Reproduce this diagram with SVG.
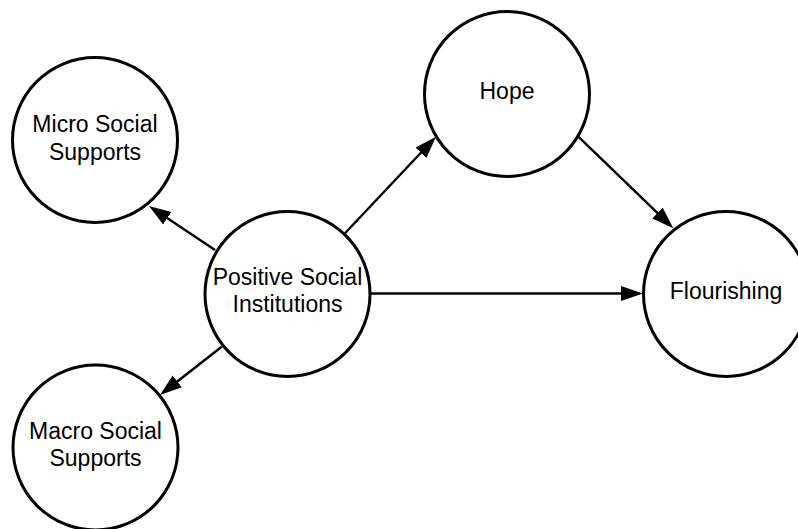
<svg xmlns="http://www.w3.org/2000/svg" width="798" height="529" viewBox="0 0 798 529">
  <style>
    .node circle { fill: #ffffff; stroke: #000000; stroke-width: 3; }
    .node text { font-family: "Liberation Sans", Arial, sans-serif; font-size: 23px; fill: #000000; text-anchor: middle; }
    .edge { stroke: #000000; stroke-width: 2.4; fill: none; marker-end: url(#arrow); }
  </style>
  <defs>
    <marker id="arrow" markerUnits="userSpaceOnUse" markerWidth="24" markerHeight="16" refX="2" refY="7.5" orient="auto">
      <path d="M0,0 L22,7.5 L0,15 z" fill="#000000"/>
    </marker>
  </defs>
  <rect width="798" height="529" fill="#ffffff"/>

  <g id="connectors">
    <line class="edge" x1="215" y1="250" x2="165.6" y2="217.1"/>
    <line class="edge" x1="221.7" y1="346.7" x2="175.7" y2="382.7"/>
    <line class="edge" x1="345" y1="233.3" x2="422.3" y2="151.3"/>
    <line class="edge" x1="578.3" y1="136.7" x2="658.9" y2="214.4"/>
    <line class="edge" x1="370" y1="293.5" x2="623" y2="293.5"/>
  </g>

  <g id="micro-social-supports" class="node">
    <circle cx="95" cy="140" r="82.5"/>
    <text x="95" y="132">Micro Social</text>
    <text x="95" y="159.5">Supports</text>
  </g>

  <g id="hope" class="node">
    <circle cx="507" cy="94" r="82.5"/>
    <text x="507" y="99">Hope</text>
  </g>

  <g id="positive-social-institutions" class="node">
    <circle cx="287.5" cy="294" r="82.5"/>
    <text x="287.5" y="284.5">Positive Social</text>
    <text x="287.5" y="312">Institutions</text>
  </g>

  <g id="flourishing" class="node">
    <circle cx="726" cy="294" r="82.5"/>
    <text x="726" y="299">Flourishing</text>
  </g>

  <g id="macro-social-supports" class="node">
    <circle cx="95.5" cy="447.5" r="82.5"/>
    <text x="95.5" y="439">Macro Social</text>
    <text x="95.5" y="466">Supports</text>
  </g>
</svg>
